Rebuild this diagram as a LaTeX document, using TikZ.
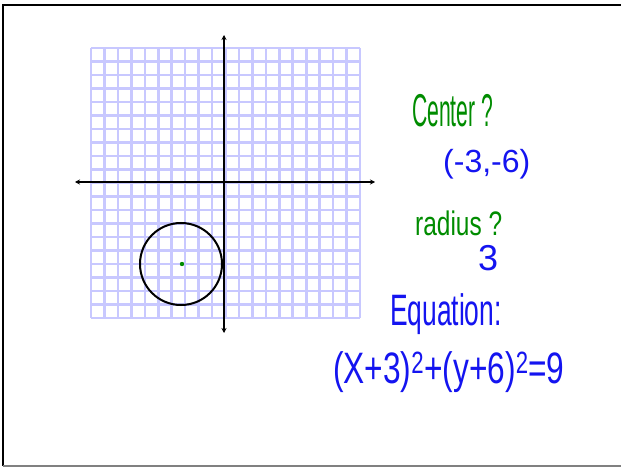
\documentclass[tikz,border=0pt]{standalone}
\usepackage{fontspec}
\setmainfont{Liberation Sans}
\usetikzlibrary{arrows.meta}
\definecolor{handgreen}{RGB}{0,140,0}
\definecolor{handblue}{RGB}{20,20,240}
\definecolor{gridblue}{RGB}{200,200,255}
\begin{document}
\begin{tikzpicture}[x=1pt,y=-1pt,
  gridline/.style={draw=gridblue,line width=2.6pt},
  axis/.style={draw=black,line width=1.6pt,{Stealth[length=5pt,width=5pt]}-{Stealth[length=5pt,width=5pt]}},
  hand/.style={inner sep=0pt,anchor=base west},
  ]
\useasboundingbox (0,0) rectangle (621,468);
\fill[white] (0,0) rectangle (621,468);
% frame
\draw[black,line width=2.5pt] (3,466) -- (3,5) -- (621,5);
\draw[gray,line width=1.5pt] (3,466) -- (621,466);
% grid
\foreach \i in {0,...,20}{
  \draw[gridline] ({91+13.45*\i},48) -- ({91+13.45*\i},318);
  \draw[gridline] (91,{48+13.5*\i}) -- (360,{48+13.5*\i});
}
% axes
\coordinate (xl) at (75,182);
\coordinate (xr) at (375,182);
\coordinate (yt) at (224,35);
\coordinate (yb) at (224,333);
\draw[axis] (xl) -- (xr);
\draw[axis] (yt) -- (yb);
% circle
\node[circle,draw=black,line width=2pt,minimum size=82pt,inner sep=0pt] (circ) at (181,264) {};
\fill[handgreen] (182,264) circle (2.2);
% texts
\node[hand,text=handgreen,font=\fontsize{46}{46}\selectfont,xscale=0.46] (center) at (412,127) {Center ?};
\node[hand,text=handblue,font=\fontsize{32}{32}\selectfont] (cval) at (443,172) {(-3,-6)};
\node[hand,text=handgreen,font=\fontsize{34}{34}\selectfont,xscale=0.72,text depth=0pt] (radius) at (415,235) {radius ?};
\node[hand,text=handblue,font=\fontsize{36}{36}\selectfont,text height=26pt] (rval) at (478,270) {3};
\node[hand,text=handblue,font=\fontsize{44}{44}\selectfont,xscale=0.6] (eqlabel) at (390,325) {Equation:};
\node[hand,text=handblue,font=\fontsize{44}{44}\selectfont,xscale=0.72] (eq) at (333,383) {(X+3)\textsuperscript{2}+(y+6)\textsuperscript{2}=9};
\end{tikzpicture}
\end{document}
